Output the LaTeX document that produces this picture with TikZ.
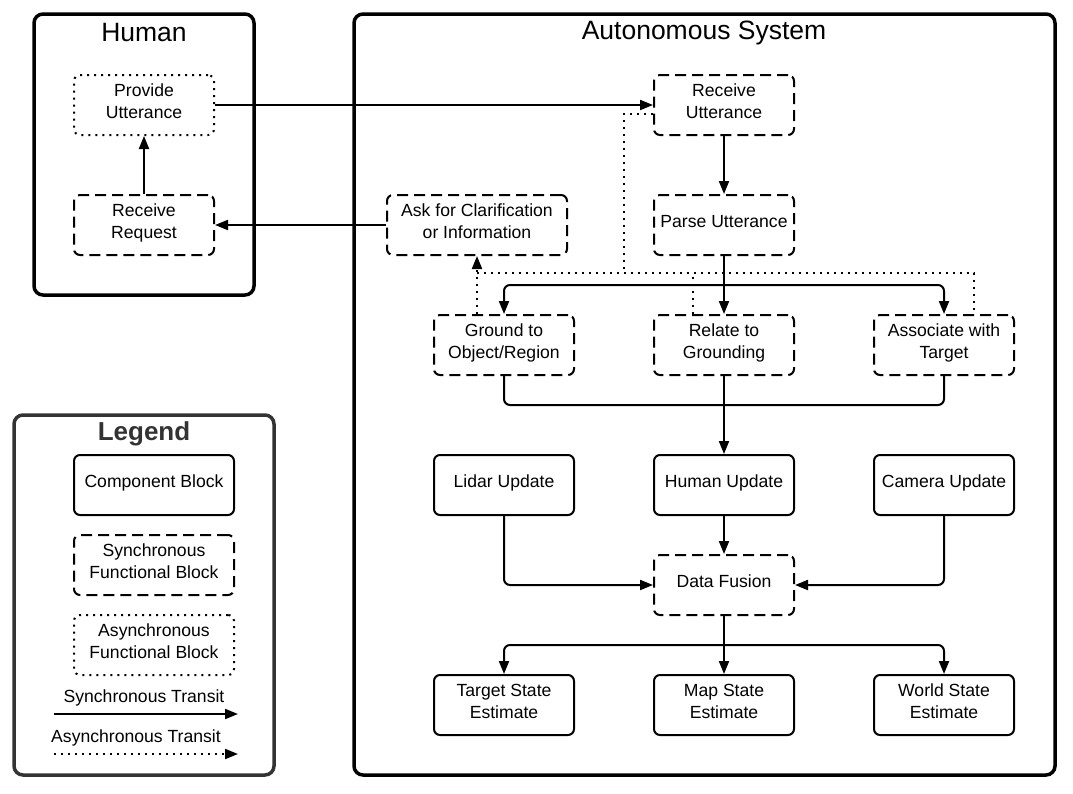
\documentclass[tikz,border=0pt]{standalone}
\usepackage{fontspec}
\setmainfont{Liberation Sans}
\usetikzlibrary{arrows.meta}

\tikzset{
  block/.style={draw, line width=2pt, rounded corners=6pt, minimum width=140pt, minimum height=60pt, align=center, font=\fontsize{17.6}{22}\selectfont, execute at end node={\rule[-8pt]{0pt}{1pt}}},
  syncblock/.style={block, dash pattern=on 11pt off 6pt},
  asyncblock/.style={block, dash pattern=on 2pt off 5pt},
  frame/.style={draw, line width=3.5pt, rounded corners=9pt},
  transit/.style={line width=2pt, -{Triangle[length=13pt,width=10pt]}},
  async/.style={line width=2pt, dash pattern=on 2pt off 5pt},
  title/.style={font=\fontsize{26.5}{30}\selectfont}
}

\begin{document}
\begin{tikzpicture}[x=1pt,y=-1pt]
\useasboundingbox (0,0) rectangle (1073,793);

% frames
\draw[frame] (34,14) rectangle (254,295);
\draw[frame] (354,14) rectangle (1055,775);
\draw[frame, draw=black!80] (14,415) rectangle (274,775);
\node[title] (humantitle) at (144,33) {Human};
\node[title] (systitle) at (704,33) {Autonomous System};
\node[title, font=\fontsize{26}{30}\selectfont\bfseries, text=black!80] (legtitle) at (144,434) {Legend};

% human side
\node[asyncblock] (putter) at (144,105) {Provide\\Utterance};
\node[syncblock] (rrequest) at (144,225) {Receive\\Request};

% autonomous system
\node[syncblock] (rutter) at (724,105) {Receive\\Utterance};
\node[syncblock] (parse) at (724,225) {Parse Utterance};
\node[syncblock, minimum width=180pt] (ask) at (477,225) {Ask for Clarification\\or Information};
\node[syncblock] (ground) at (504,345) {Ground to\\Object/Region};
\node[syncblock] (relate) at (724,345) {Relate to\\Grounding};
\node[syncblock] (assoc) at (944,345) {Associate with\\Target};
\node[block] (lidar) at (504,485) {Lidar Update};
\node[block] (hupdate) at (724,485) {Human Update};
\node[block] (camera) at (944,485) {Camera Update};
\node[syncblock] (fusion) at (724,585) {Data Fusion};
\node[block] (target) at (504,705) {Target State\\Estimate};
\node[block] (map) at (724,705) {Map State\\Estimate};
\node[block] (world) at (944,705) {World State\\Estimate};

% legend
\node[block, minimum width=160pt] (legcomp) at (154,485) {Component Block};
\node[syncblock, minimum width=160pt] (legsync) at (154,565) {Synchronous\\Functional Block};
\node[asyncblock, minimum width=160pt] (legasync) at (154,645) {Asynchronous\\Functional Block};
\node[font=\fontsize{17.6}{22}\selectfont] (legsynctext) at (144,698) {Synchronous Transit};
\node[font=\fontsize{17.6}{22}\selectfont] (legasynctext) at (136,738) {Asynchronous Transit};
\coordinate (sa) at (54,714);
\coordinate (sb) at (238,714);
\coordinate (aa) at (54,754);
\coordinate (ab) at (238,754);
\draw[transit] (sa) -- (sb);
\draw[async, -{Triangle[length=13pt,width=10pt]}] (aa) -- (ab);

% synchronous transits
\draw[transit] (putter) -- (rutter);
\draw[transit] (rrequest) -- (putter);
\draw[transit] (ask) -- (rrequest);
\draw[transit] (rutter) -- (parse);
\coordinate (split) at (724,285);
\draw[transit, rounded corners=6pt] (split) -| (ground.north);
\draw[transit, rounded corners=6pt] (split) -| (assoc.north);
\draw[transit] (parse) -- (relate);
\coordinate (merge) at (724,405);
\draw[line width=2pt, rounded corners=6pt] (ground.south) |- (merge) -| (assoc.south);
\draw[transit] (relate) -- (hupdate);
\draw[transit, rounded corners=6pt] (lidar.south) |- (fusion.west);
\draw[transit, rounded corners=6pt] (camera.south) |- (fusion.east);
\draw[transit] (hupdate) -- (fusion);
\coordinate (fan) at (724,645);
\draw[line width=2pt] (fusion.south) -- (fan);
\draw[transit, rounded corners=6pt] (fan) -| (target.north);
\draw[transit, rounded corners=6pt] (fan) -| (world.north);
\draw[transit] (fan) -- (map.north);

% asynchronous transits
\coordinate (bus) at (477,273);
\coordinate (busleft) at (624,273);
\draw[async] ([yshift=-9pt]rutter.west) -| (busleft);
\draw[async] (bus) -| ([xshift=30pt]assoc.north);
\draw[async] ([xshift=-31pt]relate.north) -- ([xshift=-31pt]relate.north |- bus);
\draw[async, -{Triangle[length=13pt,width=10pt]}] ([xshift=-27pt]ground.north) -- (ask.south);
\end{tikzpicture}
\end{document}
